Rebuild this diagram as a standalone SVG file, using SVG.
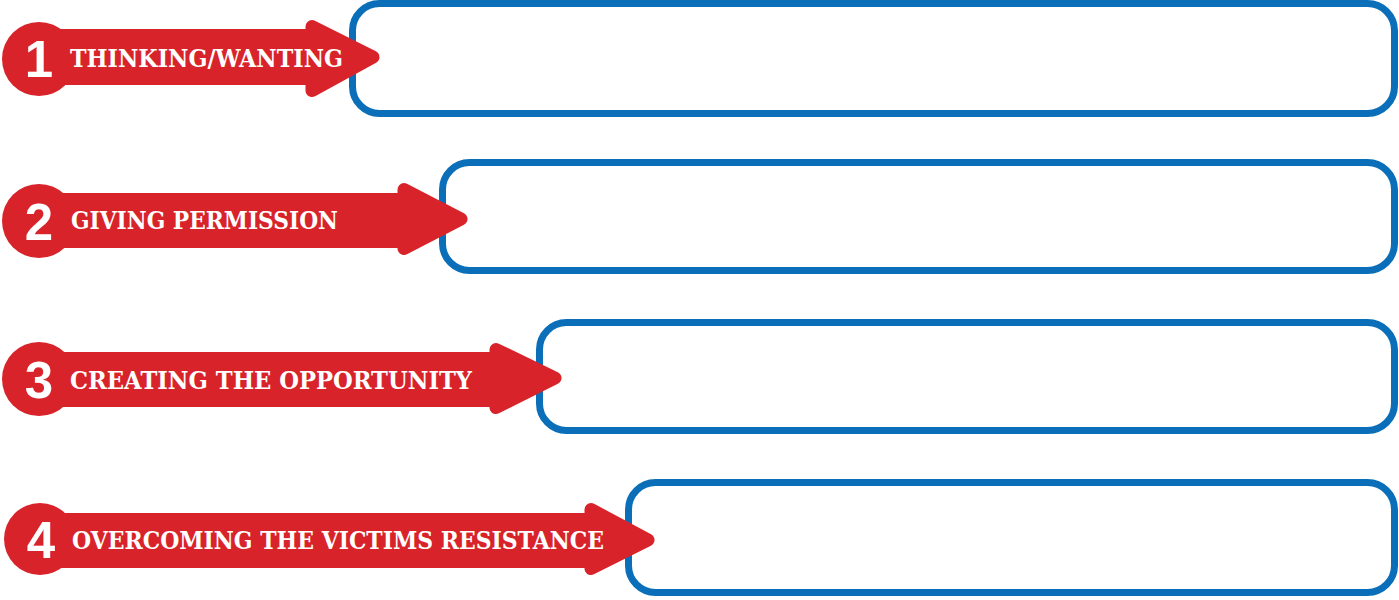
<svg xmlns="http://www.w3.org/2000/svg" width="1399" height="600" viewBox="0 0 1399 600">
<defs>
<style>
.box{fill:#ffffff;stroke:#0a6fb8;stroke-width:7}
.red{fill:#d9232a}
.head{fill:#d9232a;stroke:#d9232a;stroke-width:13;stroke-linejoin:round}
.num{fill:#ffffff;font-family:"Liberation Sans",Arial,sans-serif;font-weight:bold;font-size:51px;text-anchor:middle}
.lbl{fill:#ffffff;font-family:"DejaVu Serif","Liberation Serif",serif;font-weight:bold;font-size:24px}
</style>
</defs>
<rect width="1399" height="600" fill="#ffffff"/>
<g id="connectors"></g>
<g id="box1"><rect class="box" x="352.5" y="3.5" width="1042" height="110" rx="27"/></g>
<g id="box2"><rect class="box" x="442.5" y="162.5" width="952" height="108" rx="27"/></g>
<g id="box3"><rect class="box" x="539.5" y="322.5" width="855" height="108" rx="27"/></g>
<g id="box4"><rect class="box" x="628.5" y="482.5" width="766" height="110" rx="27"/></g>
<g id="step1">
<circle class="red" cx="39" cy="59" r="37"/>
<rect class="red" x="40" y="29" width="274" height="56"/>
<path class="head" d="M312,26.5 L373,57 L312,90.5 Z"/>
<text class="num" x="39" y="77">1</text>
<text class="lbl" x="70" y="67" textLength="273" lengthAdjust="spacingAndGlyphs">THINKING/WANTING</text>
</g>
<g id="step2">
<circle class="red" cx="39" cy="221" r="37"/>
<rect class="red" x="40" y="193" width="364" height="55"/>
<path class="head" d="M404,189.5 L461,219 L404,248.5 Z"/>
<text class="num" x="39" y="240">2</text>
<text class="lbl" x="71" y="229" textLength="267" lengthAdjust="spacingAndGlyphs">GIVING PERMISSION</text>
</g>
<g id="step3">
<circle class="red" cx="39" cy="379" r="37"/>
<rect class="red" x="40" y="352" width="456" height="55"/>
<path class="head" d="M496,349.5 L555,378 L496,407.5 Z"/>
<text class="num" x="39" y="398">3</text>
<text class="lbl" x="70" y="389" textLength="402" lengthAdjust="spacingAndGlyphs">CREATING THE OPPORTUNITY</text>
</g>
<g id="step4">
<circle class="red" cx="40" cy="539" r="36"/>
<rect class="red" x="40" y="513" width="551" height="55"/>
<path class="head" d="M591,509.5 L648,540 L591,568.5 Z"/>
<text class="num" x="41" y="558">4</text>
<text class="lbl" x="72" y="549" textLength="532" lengthAdjust="spacingAndGlyphs">OVERCOMING THE VICTIMS RESISTANCE</text>
</g>
</svg>
